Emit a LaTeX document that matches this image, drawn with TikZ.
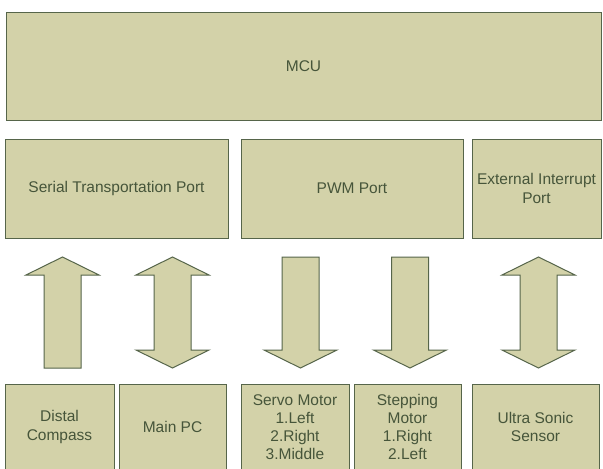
\documentclass[tikz,border=0pt]{standalone}
\usepackage{fontspec}
\setmainfont{Liberation Sans}
\definecolor{boxfill}{HTML}{D3D2A9}
\definecolor{boxline}{HTML}{56654A}
\definecolor{labeltext}{HTML}{46553A}

\tikzset{
  blockbox/.style={draw=boxline, fill=boxfill, line width=1pt, inner sep=0pt,
    text=labeltext, align=center, font=\fontsize{15.5}{18.2}\selectfont},
  arrowbody/.style={draw=boxline, fill=boxfill, line width=1pt, line join=miter},
  pics/uparrowshape/.style={code={
    \draw[arrowbody] (0,0) -- (36.5,18) -- (18.5,18) -- (18.5,111)
      -- (-18.5,111) -- (-18.5,18) -- (-36.5,18) -- cycle;}},
  pics/downarrowshape/.style={code={
    \draw[arrowbody] (-18.5,0) -- (18.5,0) -- (18.5,93) -- (36.5,93)
      -- (0,111) -- (-36.5,93) -- (-18.5,93) -- cycle;}},
  pics/bothwaysarrow/.style={code={
    \draw[arrowbody] (0,0) -- (36.5,18) -- (18.5,18) -- (18.5,93) -- (36.5,93)
      -- (0,111) -- (-36.5,93) -- (-18.5,93) -- (-18.5,18) -- (-36.5,18) -- cycle;}},
}

\begin{document}
\begin{tikzpicture}[x=1pt,y=-1pt]
\useasboundingbox (0,0) rectangle (603,469);
\clip (0,0) rectangle (603,469);
\fill[white] (0,0) rectangle (603,469);

% controller
\node[blockbox, minimum width=595pt, minimum height=108pt] (mcu) at (303.5,66) {MCU};

% ports
\node[blockbox, minimum width=223pt, minimum height=99pt] (serial) at (116.5,188.5) {Serial Transportation Port};
\node[blockbox, minimum width=222pt, minimum height=99pt] (pwm) at (352,188.5) {PWM Port};
\node[blockbox, minimum width=129pt, minimum height=99pt] (ext) at (536.5,188.5) {External Interrupt\\Port};

% devices
\node[blockbox, minimum width=109pt, minimum height=86pt] (distal) at (59.5,427) {Distal\\Compass};
\node[blockbox, minimum width=107pt, minimum height=86pt] (mainpc) at (172.5,427) {Main PC};
\node[blockbox, minimum width=108pt, minimum height=86pt] (servo) at (295,427) {Servo Motor\\1.Left\\2.Right\\3.Middle};
\node[blockbox, minimum width=107pt, minimum height=86pt] (stepping) at (407.5,427) {Stepping\\Motor\\1.Right\\2.Left};
\node[blockbox, minimum width=127pt, minimum height=86pt] (ultra) at (535.5,427) {Ultra Sonic\\Sensor};

% data direction arrows
\pic at (62.5,257) {uparrowshape};
\pic at (172.5,257) {bothwaysarrow};
\pic at (300.5,257) {downarrowshape};
\pic at (410,257) {downarrowshape};
\pic at (538.5,257) {bothwaysarrow};
\end{tikzpicture}
\end{document}
